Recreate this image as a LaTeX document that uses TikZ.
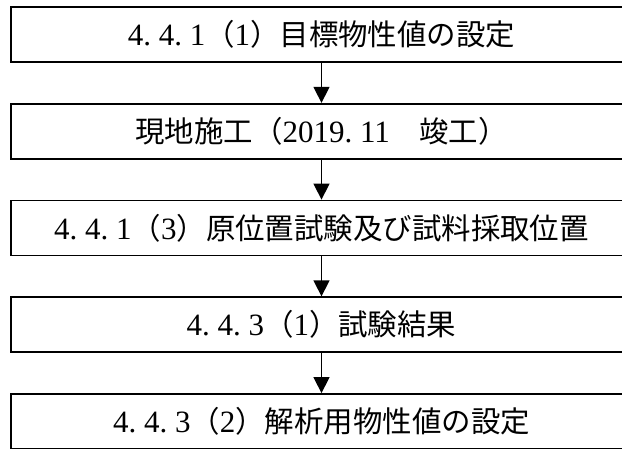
\documentclass[tikz,border=0pt]{standalone}
\usepackage{fontspec}
\setmainfont{Liberation Serif}
\newfontfamily\jpfont{Noto Sans CJK JP}[Scale=0.95]
\usetikzlibrary{arrows.meta}
% half-width full stop, as in the monospaced numbering
\newcommand{\hdot}{\makebox[0.5em][l]{.}}
\begin{document}
\begin{tikzpicture}[x=1pt,y=-1pt,
    stepbox/.style={draw=black, line width=1.8pt, minimum width=621pt, minimum height=55pt,
        inner sep=0pt, font=\fontsize{31}{36}\selectfont},
    flow/.style={line width=1.4pt, -{Triangle[width=16pt,length=16pt]}}]
        \useasboundingbox (0,0) rectangle (622,448);
        \clip (0,0) rectangle (622,448);

        \node[stepbox] (setting) at (321.5,34.5) {4\hdot4\hdot1{\jpfont （}1{\jpfont ）目標物性値の設定}};
        \node[stepbox] (works) at (321.5,131.25) {{\jpfont 現地施工（}2019\hdot11{\jpfont 　竣工）}};
        \node[stepbox] (sampling) at (321.5,228) {4\hdot4\hdot1{\jpfont （}3{\jpfont ）原位置試験及び試料採取位置}};
        \node[stepbox] (results) at (321.5,324.75) {4\hdot4\hdot3{\jpfont （}1{\jpfont ）試験結果}};
        \node[stepbox] (analysis) at (321.5,421.5) {4\hdot4\hdot3{\jpfont （}2{\jpfont ）解析用物性値の設定}};

        \draw[flow] (setting) -- (works);
        \draw[flow] (works) -- (sampling);
        \draw[flow] (sampling) -- (results);
        \draw[flow] (results) -- (analysis);
    \end{tikzpicture}
\end{document}
